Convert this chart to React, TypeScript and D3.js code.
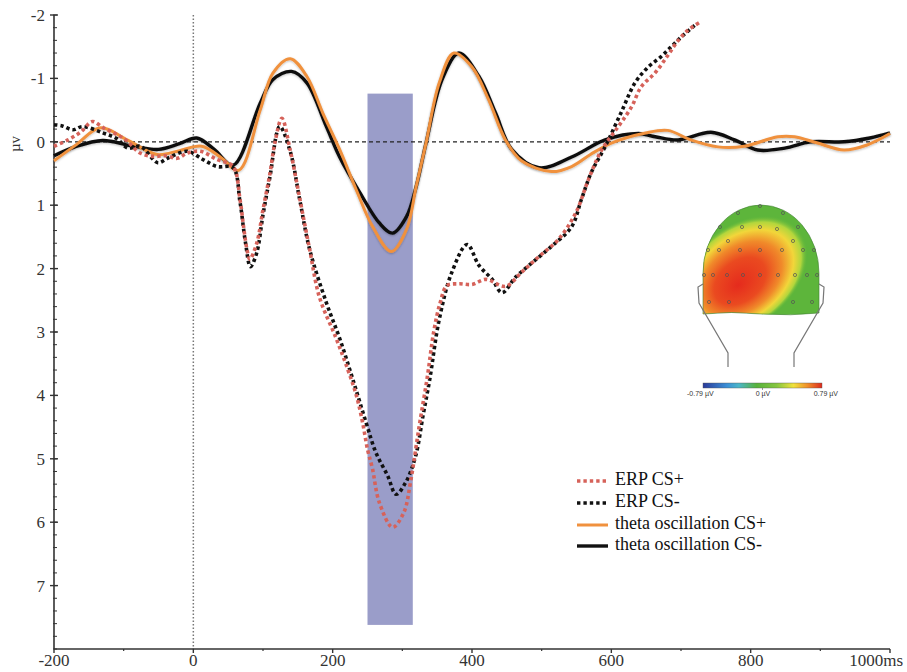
import React from 'react'
import * as d3 from 'd3'

// [ms, µV] (negative up)
const erpCSPlus: [number, number][] = [
  [-200, 0.07], [-180, -0.03], [-161, -0.16], [-145, -0.32], [-129, -0.22], [-114, -0.14], [-97, -0.03],
  [-76, 0.18], [-57, 0.23], [-40, 0.22], [-23, 0.26], [-9, 0.18], [10, 0.15], [34, 0.28], [57, 0.39],
  [67, 0.91], [72, 1.33], [77, 1.7], [81, 1.85], [91, 1.6], [100, 1.07], [110, 0.5], [117, 0.02],
  [127, -0.37], [139, 0.13], [153, 0.91], [167, 1.7], [181, 2.45], [205, 3.1], [222, 3.6], [234, 4.0],
  [243, 4.43], [250, 4.85], [257, 5.15], [267, 5.69], [286, 6.08], [302, 5.85], [312, 5.35], [324, 4.5],
  [336, 3.7], [345, 3.0], [354, 2.55], [364, 2.27], [381, 2.24], [400, 2.25], [420, 2.17], [448, 2.28],
  [471, 2.06], [496, 1.81], [524, 1.54], [549, 1.12], [567, 0.6], [586, 0.13], [610, -0.24], [629, -0.55],
  [643, -0.87], [663, -1.09], [681, -1.36], [696, -1.6], [710, -1.76], [729, -1.9],
]

const erpCSMinus: [number, number][] = [
  [-200, -0.27], [-188, -0.25], [-173, -0.19], [-159, -0.24], [-130, -0.14], [-110, -0.05], [-94, 0.1],
  [-76, 0.07], [-51, 0.33], [-37, 0.26], [-9, 0.15], [14, 0.28], [34, 0.39], [57, 0.41], [67, 0.95],
  [75, 1.6], [82, 1.97], [91, 1.75], [100, 1.15], [110, 0.55], [124, -0.24], [139, 0.15], [153, 0.93],
  [167, 1.7], [191, 2.54], [210, 3.1], [229, 3.75], [248, 4.43], [262, 4.9], [279, 5.27], [291, 5.56],
  [305, 5.37], [319, 4.96], [330, 4.3], [339, 3.77], [353, 2.8], [371, 2.06], [393, 1.62], [410, 1.95],
  [429, 2.17], [443, 2.38], [463, 2.13], [486, 1.91], [514, 1.65], [543, 1.34], [557, 0.91], [571, 0.49],
  [591, 0.08], [614, -0.46], [634, -0.93], [653, -1.18], [671, -1.34], [686, -1.5], [700, -1.65], [720, -1.84],
]

const thetaCSPlus: [number, number][] = [
  [-200, 0.3], [-170, 0.06], [-133, -0.22], [-95, -0.03], [-52, 0.2], [-20, 0.14], [12, 0.07], [40, 0.25],
  [65, 0.45], [96, -0.5], [114, -1.08], [139, -1.31], [163, -1.03], [186, -0.45], [210, 0.12], [234, 0.76],
  [257, 1.33], [284, 1.73], [306, 1.38], [320, 0.7], [334, 0.02], [353, -0.93], [374, -1.4], [400, -1.18],
  [424, -0.66], [448, -0.03], [471, 0.3], [514, 0.47], [543, 0.39], [570, 0.2], [600, 0.02], [649, -0.14],
  [681, -0.18], [714, -0.03], [753, 0.08], [791, 0.07], [839, -0.08], [863, -0.08], [896, 0.02], [934, 0.13],
  [967, 0.05], [1000, -0.13],
]

const thetaCSMinus: [number, number][] = [
  [-200, 0.22], [-170, 0.08], [-130, -0.02], [-90, 0.06], [-50, 0.12], [-20, 0.03], [5, -0.06], [30, 0.12],
  [57, 0.37], [96, -0.61], [114, -0.98], [141, -1.11], [163, -0.93], [191, -0.24], [210, 0.24], [239, 0.8],
  [267, 1.28], [286, 1.44], [306, 1.18], [320, 0.7], [334, 0.02], [357, -0.98], [381, -1.4], [410, -1.03],
  [434, -0.45], [457, 0.12], [496, 0.41], [543, 0.24], [591, -0.03], [639, -0.13], [663, -0.08], [696, -0.03],
  [743, -0.15], [777, -0.03], [810, 0.13], [849, 0.1], [886, 0.0], [934, 0.0], [971, -0.06], [1000, -0.14],
]

const xTicks = [-200, 0, 200, 400, 600, 800, 1000]
const yTicks = [-2, -1, 0, 1, 2, 3, 4, 5, 6, 7]
const windowMs = [250, 315]
const windowUv = [-0.76, 7.62]

const legendLabels = ['ERP CS+', 'ERP CS-', 'theta oscillation CS+', 'theta oscillation CS-']
const scaleLabels = ['-0.79 µV', '0 µV', '0.79 µV']

// scalp electrodes (decoration, px)
const electrodes: [number, number][] = [
  [760, 206], [738, 213], [783, 213],
  [720, 227], [742, 227], [760, 227], [777, 229], [798, 227],
  [728, 241], [793, 241],
  [708, 250], [719, 250], [740, 250], [760, 250], [782, 250], [803, 250], [814, 250],
  [704, 275], [713, 275], [727, 275], [743, 275], [760, 275], [778, 275], [795, 275], [807, 275], [817, 275],
  [709, 302], [729, 302], [793, 302], [812, 302],
]

const W = 907
const H = 672
const serif = '"Liberation Serif", "DejaVu Serif", serif'

export default function App() {
  const x = d3.scaleLinear().domain([-200, 1000]).range([54, 890])
  const y = d3.scaleLinear().domain([-2, 8]).range([15, 649])

  const line = d3
    .line<[number, number]>()
    .x((d) => x(d[0]))
    .y((d) => y(d[1]))
    .curve(d3.curveCatmullRom.alpha(0.5))

  const minorY = d3.range(-2, 8.001, 0.2)
  const minorX = d3.range(-100, 1000, 200)

  const legendStyles = [
    { stroke: '#d6625a', width: 3.6, dash: '3.4 3' },
    { stroke: '#111', width: 3.6, dash: '3.4 3' },
    { stroke: '#f0913e', width: 3, dash: null },
    { stroke: '#111', width: 3.4, dash: null },
  ]

  // dome of the head
  const cx = 761
  const cy = 273
  const dome = `M ${cx - 58},314 L ${cx - 58},${cy} A 58 68 0 0 1 ${cx + 58},${cy} L ${cx + 58},313 Q ${cx + 30},316 ${cx},314 Q ${cx - 30},311 ${cx - 58},314 Z`

  return (
    <svg width={W} height={H} style={{ position: 'absolute', left: 0, top: 0, background: '#fff' }}>
      <defs>
        <filter id="soft" x="-5%" y="-5%" width="110%" height="110%">
          <feDropShadow dx="0" dy="1" stdDeviation="1.2" floodColor="#000" floodOpacity="0.25" />
        </filter>
        <clipPath id="domeClip">
          <path d={dome} />
        </clipPath>
        <radialGradient id="heat" cx="0.42" cy="0.5" r="0.5" fx="0.35" fy="0.55">
          <stop offset="0" stopColor="#e52b1d" />
          <stop offset="0.4" stopColor="#ea4a20" />
          <stop offset="0.63" stopColor="#f08a2a" />
          <stop offset="0.8" stopColor="#f2d63a" />
          <stop offset="0.91" stopColor="#b2d63c" />
          <stop offset="1" stopColor="#62b83c" stopOpacity="0" />
        </radialGradient>
        <linearGradient id="cbar" x1="0" x2="1" y1="0" y2="0">
          <stop offset="0" stopColor="#2a3a9a" />
          <stop offset="0.2" stopColor="#3b8fd6" />
          <stop offset="0.3" stopColor="#4bb6c8" />
          <stop offset="0.45" stopColor="#57b23b" />
          <stop offset="0.62" stopColor="#86c63f" />
          <stop offset="0.76" stopColor="#f0e23c" />
          <stop offset="0.88" stopColor="#f08d2a" />
          <stop offset="1" stopColor="#dd2a1e" />
        </linearGradient>
      </defs>

      {/* analysis window */}
      <rect
        x={x(windowMs[0])}
        y={y(windowUv[0])}
        width={x(windowMs[1]) - x(windowMs[0])}
        height={y(windowUv[1]) - y(windowUv[0])}
        fill="#9a9dc9"
      />

      {/* reference lines */}
      <line x1={x(-200)} x2={x(1000)} y1={y(0)} y2={y(0)} stroke="#222" strokeWidth={1.2} strokeDasharray="4 3" />
      <line x1={x(0)} x2={x(0)} y1={y(-2)} y2={y(8)} stroke="#777" strokeWidth={1.5} strokeDasharray="1.5 2" />

      {/* axes */}
      <g stroke="#333" fill="none">
        <line x1={x(-200)} x2={x(-200)} y1={y(-2)} y2={y(8)} strokeWidth={1.6} />
        <line x1={x(-200)} x2={x(1000)} y1={y(8)} y2={y(8)} strokeWidth={1.6} />
        {minorY.map((v, i) => (
          <line key={'my' + i} x1={x(-200) - 1} x2={x(-200) + 3} y1={y(v)} y2={y(v)} strokeWidth={1} />
        ))}
        {yTicks.map((v) => (
          <line key={'y' + v} x1={x(-200) - 4} x2={x(-200) + 4} y1={y(v)} y2={y(v)} strokeWidth={1.4} />
        ))}
        {xTicks.map((v) => (
          <line key={'x' + v} x1={x(v)} x2={x(v)} y1={y(8)} y2={y(8) + 4} strokeWidth={1.4} />
        ))}
        {minorX.map((v) => (
          <line key={'mx' + v} x1={x(v)} x2={x(v)} y1={y(8)} y2={y(8) + 2} strokeWidth={1.2} />
        ))}
      </g>
      <g fontFamily={serif} fontSize={17} fill="#333">
        {yTicks.map((v) => (
          <text key={'yl' + v} x={x(-200) - 9} y={y(v)} dy="0.35em" textAnchor="end">
            {v}
          </text>
        ))}
        {xTicks.map((v) => (
          <text key={'xl' + v} x={v === 1000 ? 903 : x(v)} y={666} textAnchor={v === 1000 ? 'end' : 'middle'}>
            {v === 1000 ? '1000ms' : v}
          </text>
        ))}
        <text transform="translate(20,144) rotate(-90)" textAnchor="middle" fontSize={15}>
          µv
        </text>
      </g>

      {/* theta oscillations */}
      <path d={line(thetaCSMinus) ?? ''} fill="none" stroke="#111" strokeWidth={3.4} filter="url(#soft)" />
      <path d={line(thetaCSPlus) ?? ''} fill="none" stroke="#f0913e" strokeWidth={3} filter="url(#soft)" />

      {/* ERPs */}
      <path d={line(erpCSMinus) ?? ''} fill="none" stroke="#111" strokeWidth={3.6} strokeDasharray="3.4 3" />
      <path d={line(erpCSPlus) ?? ''} fill="none" stroke="#d6625a" strokeWidth={3.6} strokeDasharray="3.4 3" />

      {/* legend */}
      <g fontFamily={serif} fontSize={18} fill="#111">
        {legendLabels.map((label, i) => {
          const base = [485, 507, 529, 550][i]
          const s = legendStyles[i]
          return (
            <g key={label}>
              <line
                x1={577}
                x2={608}
                y1={base - 4}
                y2={base - 4}
                stroke={s.stroke}
                strokeWidth={s.width}
                strokeDasharray={s.dash ?? undefined}
              />
              <text x={615} y={base}>
                {label}
              </text>
            </g>
          )
        })}
      </g>

      {/* scalp map */}
      <g>
        <g clipPath="url(#domeClip)">
          <rect x={cx - 70} y={195} width={140} height={125} fill="#5db53b" />
          <ellipse
            cx={752}
            cy={268}
            rx={72}
            ry={50}
            fill="url(#heat)"
            transform="rotate(-38 752 268)"
          />
        </g>
        <path d={dome} fill="none" stroke="#3f7f32" strokeWidth={0.6} />
        {electrodes.map(([ex, ey], i) => (
          <circle key={'e' + i} cx={ex} cy={ey} r={1.6} fill="none" stroke="#555" strokeWidth={0.7} />
        ))}
        <g fill="none" stroke="#777" strokeWidth={1.2}>
          <path d={`M ${cx - 58},284 L ${cx - 63},287 L ${cx - 62},303 L ${cx - 33},353 L ${cx - 33},367`} />
          <path d={`M ${cx + 58},284 L ${cx + 63},287 L ${cx + 62},303 L ${cx + 33},353 L ${cx + 33},367`} />
        </g>
        <rect x={703} y={383} width={119} height={5} fill="url(#cbar)" stroke="#555" strokeWidth={0.4} />
        <line x1={762.5} x2={762.5} y1={388} y2={390} stroke="#555" strokeWidth={0.6} />
        <g fontFamily='"Liberation Sans", Arial, sans-serif' fontSize={7} fill="#333">
          <text x={687} y={396}>{scaleLabels[0]}</text>
          <text x={763} y={396} textAnchor="middle">{scaleLabels[1]}</text>
          <text x={838} y={396} textAnchor="end">{scaleLabels[2]}</text>
        </g>
      </g>
    </svg>
  )
}
